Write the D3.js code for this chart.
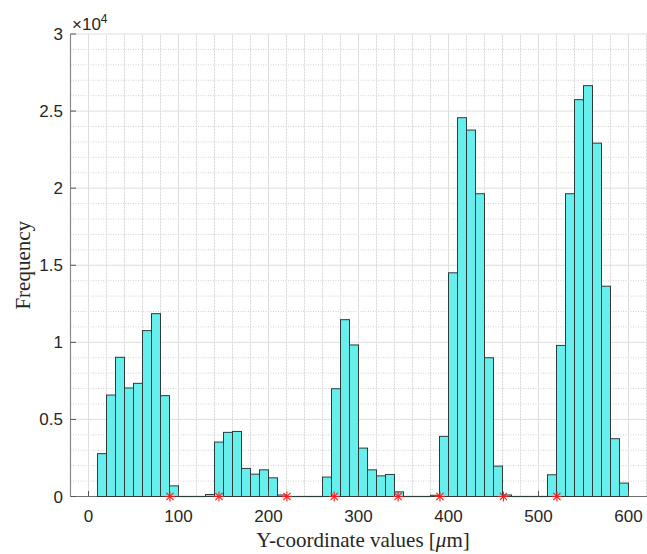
<!DOCTYPE html>
<html>
<head>
<meta charset="utf-8">
<script src="https://cdn.jsdelivr.net/npm/d3@7"></script>
<style>
  html, body { margin: 0; padding: 0; background: #fff; }
  svg { display: block; }
</style>
</head>
<body>
<svg id="chart" width="647" height="554"></svg>
<script>
// ---- data ----
const binStart = 10;
const binWidth = 10;
const counts = [
  2780, 6580, 9030, 7040, 7340, 10760, 11860, 6540, 690,      // 10-100
  0, 0, 0, 130,                                               // 100-140
  3530, 4160, 4220, 1820, 1450, 1730, 1210, 100,              // 140-220
  0, 0, 0, 0,                                                 // 220-260
  1260, 6990, 11470, 9830, 3140, 1730, 1340, 1430, 300,       // 260-350
  0, 0, 0, 80,                                                // 350-390
  3900, 14510, 24570, 23770, 19640, 9000, 1970, 100,          // 390-470
  0, 0, 0, 0,                                                 // 470-510
  1410, 9800, 19640, 25740, 26650, 22920, 13640, 3750, 870    // 510-600
];
const boundaries = [90.5, 145, 220.5, 273, 344, 390.5, 461, 520.5];
const xTicks = [0, 100, 200, 300, 400, 500, 600];
const yTicks = [0, 5000, 10000, 15000, 20000, 25000, 30000];
const yTickLabels = ["0", "0.5", "1", "1.5", "2", "2.5", "3"];
const xLabel = "Y-coordinate values [";
const yLabel = "Frequency";

// ---- layout ----
const svg = d3.select("#chart");
const x = d3.scaleLinear().domain([-20, 630]).range([70.5, 655.5]);
const y = d3.scaleLinear().domain([0, 30000]).range([496.5, 34]);
const bins = counts.map((c, i) => ({x0: binStart + i * binWidth, x1: binStart + (i + 1) * binWidth, c}));

// minor grid
const gMinor = svg.append("g");
d3.range(-20, 631, 20).filter(v => v % 100 !== 0).forEach(v => {
  gMinor.append("line").attr("x1", x(v)).attr("x2", x(v)).attr("y1", y(0)).attr("y2", y(30000))
    .attr("stroke", "#d6d6d6").attr("stroke-width", 1).attr("stroke-dasharray", "2,1");
});
d3.range(1000, 30000, 1000).filter(v => v % 5000 !== 0).forEach(v => {
  gMinor.append("line").attr("x1", x(-20)).attr("x2", x(630)).attr("y1", y(v)).attr("y2", y(v))
    .attr("stroke", "#d2d2d2").attr("stroke-width", 1).attr("stroke-dasharray", "1,1.5");
});
// major grid
const gMajor = svg.append("g");
xTicks.forEach(v => {
  gMajor.append("line").attr("x1", x(v)).attr("x2", x(v)).attr("y1", y(0)).attr("y2", y(30000))
    .attr("stroke", "#dedede").attr("stroke-width", 1);
});
yTicks.forEach(v => {
  gMajor.append("line").attr("x1", x(-20)).attr("x2", x(630)).attr("y1", y(v)).attr("y2", y(v))
    .attr("stroke", "#dedede").attr("stroke-width", 1);
});

// axes lines
svg.append("line").attr("x1", x(-20)).attr("x2", x(630)).attr("y1", y(0)).attr("y2", y(0))
  .attr("stroke", "#707070").attr("stroke-width", 1.2);
svg.append("line").attr("x1", x(-20)).attr("x2", x(-20)).attr("y1", y(0)).attr("y2", y(30000))
  .attr("stroke", "#8a8a8a").attr("stroke-width", 1.2);

// bars (zero-count bins drawn as edge on baseline)
svg.append("g").selectAll("rect").data(bins.filter(d => d.c > 0)).join("rect")
  .attr("x", d => x(d.x0))
  .attr("y", d => y(d.c))
  .attr("width", d => x(d.x1) - x(d.x0))
  .attr("height", d => y(0) - y(d.c))
  .attr("fill", "#66efec")
  .attr("stroke", "#2f3b3b")
  .attr("stroke-width", 1);
svg.append("g").selectAll("line").data(bins.filter(d => d.c === 0)).join("line")
  .attr("x1", d => x(d.x0)).attr("x2", d => x(d.x1))
  .attr("y1", y(0)).attr("y2", y(0))
  .attr("stroke", "#2f3b3b").attr("stroke-width", 1.2);

// ticks (inward)
xTicks.forEach(v => {
  svg.append("line").attr("x1", x(v)).attr("x2", x(v)).attr("y1", y(0)).attr("y2", y(0) - 5.5)
    .attr("stroke", "#555").attr("stroke-width", 1);
  svg.append("text").attr("x", x(v)).attr("y", 522).attr("text-anchor", "middle")
    .attr("font-family", "Liberation Sans, Arial, sans-serif").attr("font-size", 17)
    .attr("fill", "#262626").text(v);
});
yTicks.forEach((v, i) => {
  svg.append("line").attr("x1", x(-20)).attr("x2", x(-20) + 5.5).attr("y1", y(v)).attr("y2", y(v))
    .attr("stroke", "#555").attr("stroke-width", 1);
  svg.append("text").attr("x", 63).attr("y", y(v) + 6).attr("text-anchor", "end")
    .attr("font-family", "Liberation Sans, Arial, sans-serif").attr("font-size", 17)
    .attr("fill", "#262626").text(yTickLabels[i]);
});

// exponent label
const exp = svg.append("text").attr("x", 72).attr("y", 30)
  .attr("font-family", "Liberation Sans, Arial, sans-serif").attr("font-size", 17).attr("fill", "#262626");
exp.append("tspan").text("\u00d710");
exp.append("tspan").attr("dy", -7).attr("font-size", 12).text("4");

// red star markers at boundaries
const gStars = svg.append("g");
boundaries.forEach(b => {
  const cx = x(b), cy = y(0), r = 5;
  const s = gStars.append("g").attr("transform", `translate(${cx},${cy})`)
    .attr("stroke", "#ff1a1a").attr("stroke-width", 1.1);
  s.append("line").attr("x1", -r).attr("x2", r).attr("y1", 0).attr("y2", 0);
  s.append("line").attr("x1", 0).attr("x2", 0).attr("y1", -r).attr("y2", r);
  s.append("line").attr("x1", -r * 0.72).attr("x2", r * 0.72).attr("y1", -r * 0.72).attr("y2", r * 0.72);
  s.append("line").attr("x1", -r * 0.72).attr("x2", r * 0.72).attr("y1", r * 0.72).attr("y2", -r * 0.72);
});

// axis labels
const xl = svg.append("text").attr("x", (x(-20) + x(630)) / 2).attr("y", 547).attr("text-anchor", "middle")
  .attr("font-family", "Liberation Serif, Times New Roman, serif").attr("font-size", 21).attr("fill", "#262626");
xl.append("tspan").text(xLabel);
xl.append("tspan").attr("font-style", "italic").text("\u03bc");
xl.append("tspan").text("m]");

svg.append("text").attr("transform", `translate(30,${(y(0) + y(30000)) / 2}) rotate(-90)`)
  .attr("text-anchor", "middle")
  .attr("font-family", "Liberation Serif, Times New Roman, serif").attr("font-size", 21).attr("fill", "#262626")
  .text(yLabel);
</script>
</body>
</html>
